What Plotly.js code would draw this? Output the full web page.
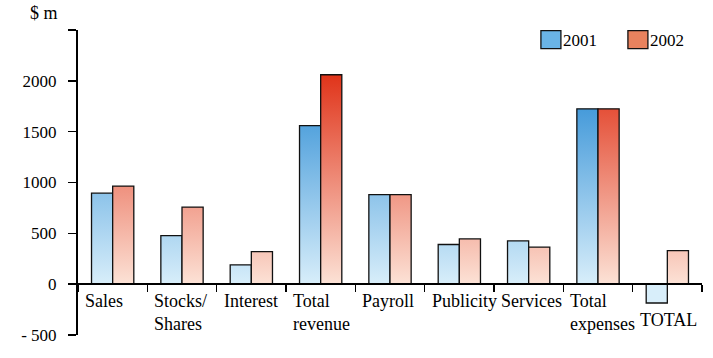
<!DOCTYPE html>
<html>
<head>
<meta charset="utf-8">
<script src="https://cdn.plot.ly/plotly-3.0.1.min.js"></script>
<style>
  html, body { margin: 0; padding: 0; background: #fff; }
  #chart { width: 713px; height: 358px; }
</style>
</head>
<body>
<div id="chart"></div>
<script>
// ---- data ----
const categories = ['Sales', 'Stocks/Shares', 'Interest', 'Total revenue', 'Payroll', 'Publicity', 'Services', 'Total expenses', 'TOTAL'];
const categoryLabels = ['Sales', 'Stocks/<br>Shares', 'Interest', 'Total<br>revenue', 'Payroll', 'Publicity', 'Services', 'Total<br>expenses', 'TOTAL'];
const values2001 = [895, 478, 190, 1560, 880, 390, 425, 1725, -185];
const values2002 = [965, 758, 320, 2060, 880, 445, 365, 1725, 330];
const seriesNames = ['2001', '2002'];
const yTickVals = [-500, 0, 500, 1000, 1500, 2000, 2500];
const yTickText = ['- 500', '0', '500', '1000', '1500', '2000', ''];
const unitLabel = '$ m';

const serif = 'Liberation Serif';
const gd = document.getElementById('chart');

const data = [
  {
    type: 'bar', name: seriesNames[0], x: categories, y: values2001,
    marker: { color: '#6ab4e6', line: { color: '#111', width: 1.3 } }
  },
  {
    type: 'bar', name: seriesNames[1], x: categories, y: values2002,
    marker: { color: '#e8825e', line: { color: '#111', width: 1.3 } }
  }
];

const annotations = categories.map((c, i) => ({
  xref: 'x', yref: 'y', x: i - 0.5, y: Math.min(0, values2001[i], values2002[i]),
  xanchor: 'left', yanchor: 'top', xshift: 5, yshift: -5,
  align: 'left', showarrow: false,
  text: categoryLabels[i],
  font: { family: serif, size: 18, color: '#000' }
}));
annotations.push({
  xref: 'paper', yref: 'paper', x: -0.08, y: 1.056,
  xanchor: 'left', yanchor: 'middle', showarrow: false,
  text: unitLabel, font: { family: serif, size: 18, color: '#000' }
});

const layout = {
  width: 713, height: 358,
  margin: { l: 78, r: 11, t: 30, b: 23, autoexpand: false },
  font: { family: serif, color: '#000' },
  paper_bgcolor: '#fff', plot_bgcolor: '#fff',
  barmode: 'group', bargap: 0.39, bargroupgap: 0,
  showlegend: true,
  legend: {
    orientation: 'h', x: 0.713, xanchor: 'left', y: 0.967, yanchor: 'middle',
    entrywidth: 42, entrywidthmode: 'pixels',
    font: { family: serif, size: 17, color: '#000' },
    bgcolor: 'rgba(0,0,0,0)'
  },
  xaxis: {
    type: 'category', anchor: 'free', position: 1 / 6,
    showline: true, linecolor: '#000', linewidth: 2,
    ticks: 'outside', ticklen: 7, tickwidth: 1.5, tickcolor: '#000',
    tickson: 'boundaries', showticklabels: false, showgrid: false, zeroline: false
  },
  yaxis: {
    range: [-500, 2500],
    tickmode: 'array', tickvals: yTickVals, ticktext: yTickText,
    showline: true, linecolor: '#000', linewidth: 2,
    ticks: 'outside', ticklen: 8, tickwidth: 1.5, tickcolor: '#000',
    ticklabelstandoff: 8,
    tickfont: { family: serif, size: 17, color: '#000' },
    showgrid: false, zeroline: false
  },
  annotations: annotations
};

function applyGradients() {
  const ya = gd._fullLayout.yaxis;
  const svg = gd.querySelector('.main-svg');
  let defs = svg.querySelector('defs');
  const NS = 'http://www.w3.org/2000/svg';
  if (!defs) { defs = document.createElementNS(NS, 'defs'); svg.insertBefore(defs, svg.firstChild); }
  const stops = [
    [['0', '#d8eefa'], ['1', '#2a8bd4']],
    [['0', '#fce2d6'], ['1', '#e0341a']]
  ];
  const y0 = ya.c2p(0), y1 = ya.c2p(2060);
  stops.forEach((s, i) => {
    const g = document.createElementNS(NS, 'linearGradient');
    g.setAttribute('id', 'bargrad' + i);
    g.setAttribute('gradientUnits', 'userSpaceOnUse');
    g.setAttribute('x1', 0); g.setAttribute('x2', 0);
    g.setAttribute('y1', y0); g.setAttribute('y2', y1);
    s.forEach(st => {
      const e = document.createElementNS(NS, 'stop');
      e.setAttribute('offset', st[0]);
      e.setAttribute('stop-color', st[1]);
      g.appendChild(e);
    });
    defs.appendChild(g);
  });
  gd.querySelectorAll('.barlayer .trace').forEach((tr, i) => {
    tr.querySelectorAll('.point path').forEach(p => { p.style.fill = 'url(#bargrad' + i + ')'; });
  });
  gd.querySelectorAll('.legendpoints path').forEach(p => {
    p.setAttribute('d', 'M18,9H-2V-9H18Z');
  });
  gd.querySelectorAll('.ytick text').forEach(t => { t.style.fontFamily = '"Liberation Serif", serif'; });
}

Plotly.newPlot(gd, data, layout, { staticPlot: true, displayModeBar: false }).then(applyGradients);
</script>
</body>
</html>
